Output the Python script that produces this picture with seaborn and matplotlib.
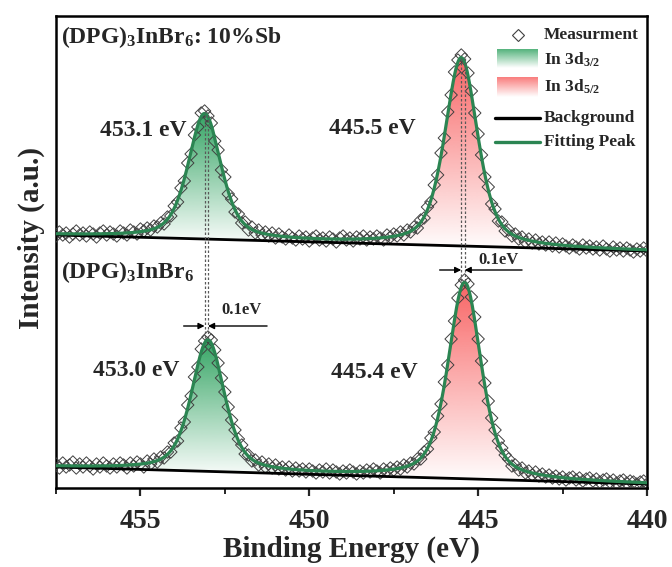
import numpy as np
import pandas as pd
import matplotlib
matplotlib.use("Agg")
import matplotlib.pyplot as plt
import seaborn as sns
from matplotlib.colors import to_rgb
from matplotlib.ticker import MultipleLocator

# ---------------- data ----------------
# binding-energy grid of the measurement, 457.5 -> 440.0 eV in 0.1 eV steps
energy = np.round(np.arange(4575, 4399, -1) / 10.0, 1)

meas_top = [
    252, 256, 253, 255, 251, 254, 257, 253, 255, 252,
    256, 254, 251, 255, 257, 253, 256, 254, 252, 257,
    255, 253, 258, 256, 254, 259, 257, 260, 258, 262,
    261, 265, 264, 271, 272, 282, 286, 300, 307, 325,
    334, 353, 361, 375, 377, 372, 365, 347, 338, 318,
    311, 294, 289, 276, 274, 265, 266, 258, 261, 255,
    258, 253, 256, 252, 255, 250, 254, 251, 249, 253,
    250, 248, 252, 249, 251, 247, 250, 252, 248, 250,
    247, 251, 249, 246, 250, 252, 248, 250, 247, 251,
    249, 252, 248, 251, 249, 252, 250, 248, 253, 251,
    254, 252, 256, 253, 258, 256, 261, 260, 268, 270,
    281, 286, 303, 313, 335, 350, 376, 393, 416, 428,
    433, 429, 415, 397, 375, 354, 333, 311, 301, 284,
    279, 267, 266, 257, 258, 252, 254, 249, 251, 246,
    249, 245, 248, 244, 246, 243, 246, 242, 245, 241,
    244, 242, 240, 243, 241, 239, 243, 240, 242, 239,
    241, 238, 242, 239, 237, 241, 238, 240, 237, 240,
    238, 236, 239, 237, 240, 237,
]

meas_bottom = [
    24, 20, 25, 21, 23, 26, 20, 24, 21, 25,
    22, 19, 24, 21, 25, 22, 20, 24, 21, 25,
    23, 20, 25, 22, 26, 24, 21, 27, 24, 29,
    26, 31, 30, 36, 36, 45, 47, 60, 66, 83,
    92, 111, 121, 139, 147, 151, 148, 138, 125, 110,
    96, 81, 68, 58, 49, 43, 34, 33, 27, 28,
    23, 26, 21, 24, 20, 23, 19, 21, 18, 21,
    17, 20, 17, 19, 16, 19, 17, 15, 18, 16,
    19, 15, 18, 16, 14, 17, 15, 18, 16, 14,
    17, 15, 18, 16, 19, 17, 15, 19, 17, 20,
    18, 21, 19, 23, 21, 25, 24, 29, 29, 36,
    39, 50, 56, 72, 84, 106, 123, 149, 167, 190,
    203, 208, 204, 191, 171, 149, 127, 105, 87, 70,
    58, 47, 40, 33, 29, 22, 23, 18, 20, 15,
    17, 13, 16, 12, 14, 11, 13, 10, 12, 9,
    11, 8, 10, 11, 8, 10, 7, 9, 10, 7,
    9, 6, 8, 9, 6, 8, 5, 7, 8, 5,
    7, 6, 4, 6, 7, 4,
]

# fitted model parameters
bg_top_ends = [253, 237]        # linear background at 457.5 / 440.0 eV
bg_bottom_ends = [21, 4]
centers_top = [453.1, 445.5]
heights_top = [125, 188]
centers_bottom = [453.0, 445.4]
heights_bottom = [131, 196]
peak_fwhm = 1.15
peak_eta = 0.5

peak_labels_top = ["453.1 eV", "445.5 eV"]
peak_labels_bottom = ["453.0 eV", "445.4 eV"]
legend_labels = ["Measurment", "In 3d$_{\\mathrm{3/2}}$", "In 3d$_{\\mathrm{5/2}}$",
                 "Background", "Fitting Peak"]
x_ticks = [455, 450, 445, 440]

# ---------------- style ----------------
sns.set_theme(style="ticks")
plt.rcParams["font.family"] = ["Liberation Serif", "DejaVu Serif"]
plt.rcParams["font.weight"] = "bold"
plt.rcParams["axes.labelweight"] = "bold"
plt.rcParams["mathtext.fontset"] = "custom"
plt.rcParams["mathtext.rm"] = "Liberation Serif:bold"
plt.rcParams["mathtext.bf"] = "Liberation Serif:bold"
plt.rcParams["mathtext.it"] = "Liberation Serif:bold:italic"

GREEN = "#2aa05c"
RED = "#f85c5c"
FIT = "#2b8552"

fig = plt.figure(figsize=(6.72, 5.67), dpi=100)
ax = fig.add_axes([56 / 672, 79 / 567, 591 / 672, 472 / 567])

xf = np.linspace(457.5, 440.0, 1401)


def pvoigt(x, c, h, w, eta):
    u2 = (2.0 * (x - c) / w) ** 2
    return h * (eta / (1.0 + u2) + (1.0 - eta) * np.exp(-np.log(2.0) * u2))


def linear_bg(x, ends):
    return ends[0] + (ends[1] - ends[0]) * (457.5 - x) / 17.5


def gradient_fill(ylow, yhigh, color, amax=0.95):
    poly = ax.fill_between(xf, ylow, yhigh, facecolor="none", edgecolor="none")
    rgb = to_rgb(color)
    n = 256
    img = np.zeros((n, 1, 4))
    img[:, 0, :3] = rgb
    img[:, 0, 3] = np.linspace(0.0, amax, n)
    mask = (yhigh - ylow) > 0.3
    ybot = ylow[mask].min()
    ytop = yhigh.max()
    im = ax.imshow(img, aspect="auto", origin="lower",
                   extent=[440.0, 457.5, ybot, ytop], zorder=1,
                   interpolation="bilinear")
    im.set_clip_path(poly.get_paths()[0], ax.transData)


for ends, cs, hs, meas in [(bg_top_ends, centers_top, heights_top, meas_top),
                           (bg_bottom_ends, centers_bottom, heights_bottom, meas_bottom)]:
    bg = linear_bg(xf, ends)
    comps = [pvoigt(xf, c, h, peak_fwhm, peak_eta) for c, h in zip(cs, hs)]
    for comp, col in zip(comps, [GREEN, RED]):
        gradient_fill(bg, bg + comp, col)
    fit = bg + comps[0] + comps[1]
    sns.scatterplot(x=energy, y=meas, marker="D", s=40, facecolors="none",
                    edgecolor="#404040", linewidth=0.7, ax=ax, zorder=3,
                    legend=False)
    sns.lineplot(x=xf, y=bg, color="black", lw=2.0, ax=ax, zorder=4)
    sns.lineplot(x=xf, y=fit, color=FIT, lw=2.3, ax=ax, zorder=5)

# dotted guide lines between the peak maxima
dot = dict(color="0.35", lw=0.9, ls=(0, (2, 1.6)), zorder=6)
ax.plot([centers_top[0]] * 2, [150, 376], **dot)
ax.plot([centers_bottom[0]] * 2, [150, 376], **dot)
ax.plot([centers_top[1]] * 2, [207, 432], **dot)
ax.plot([centers_bottom[1]] * 2, [207, 432], **dot)

arr = dict(arrowstyle="-|>", color="black", lw=1.0, mutation_scale=9,
           shrinkA=0, shrinkB=0)
ax.annotate("", xy=(centers_top[0], 162), xytext=(453.72, 162), arrowprops=arr, zorder=7)
ax.annotate("", xy=(centers_bottom[0], 162), xytext=(451.25, 162), arrowprops=arr, zorder=7)
ax.text(452.6, 170, "0.1eV", fontsize=12, fontweight="bold", ha="left", va="bottom")
ax.annotate("", xy=(centers_top[1], 218), xytext=(446.14, 218), arrowprops=arr, zorder=7)
ax.annotate("", xy=(centers_bottom[1], 218), xytext=(443.7, 218), arrowprops=arr, zorder=7)
ax.text(445.0, 220, "0.1eV", fontsize=12, fontweight="bold", ha="left", va="bottom")

# peak labels
for (x, y), lab in zip([(454.93, 358), (448.12, 360)], peak_labels_top):
    ax.text(x, y, lab, fontsize=17, fontweight="bold", ha="center", va="center")
for (x, y), lab in zip([(455.13, 118), (448.06, 116)], peak_labels_bottom):
    ax.text(x, y, lab, fontsize=17, fontweight="bold", ha="center", va="center")

ax.text(0.008, 0.955, "(DPG)$_{\\mathrm{3}}$InBr$_{\\mathrm{6}}$: 10%Sb", transform=ax.transAxes,
        fontsize=17, fontweight="bold", ha="left", va="center")
ax.text(0.008, 0.458, "(DPG)$_{\\mathrm{3}}$InBr$_{\\mathrm{6}}$", transform=ax.transAxes,
        fontsize=17, fontweight="bold", ha="left", va="center")


# ---------------- hand-built legend ----------------
def axc(px, py):
    return (px - 56) / 591, (488 - py) / 472


T = ax.transAxes
ax.plot(*axc(518, 35), marker="D", ms=6, mfc="none", mec="#404040", mew=0.8,
        transform=T, clip_on=False, zorder=8)
for (py0, py1), col in zip([(49, 68), (77, 97)], [GREEN, RED]):
    x0, y0 = axc(497, py1)
    x1, y1 = axc(538, py0)
    n = 64
    img = np.zeros((n, 1, 4))
    img[:, 0, :3] = to_rgb(col)
    img[:, 0, 3] = np.linspace(0.0, 0.8, n)
    ax.imshow(img, aspect="auto", origin="lower", extent=[x0, x1, y0, y1],
              transform=T, zorder=8, interpolation="bilinear", clip_on=False)
for py, col in zip([118, 142], ["black", FIT]):
    xa, ya = axc(495, py)
    xb, _ = axc(540, py)
    ax.plot([xa, xb], [ya, ya], color=col, lw=2.4, transform=T, clip_on=False, zorder=8)
for py, lab in zip([35, 60, 87, 118, 142], legend_labels):
    xx, yy = axc(544, py)
    ax.text(xx, yy, lab, transform=T, fontsize=12.5, fontweight="bold",
            ha="left", va="center", zorder=8)

# ---------------- axes ----------------
ax.set_xlim(457.5, 440.0)
ax.set_ylim(0, 472)
ax.set_xticks(x_ticks)
ax.xaxis.set_minor_locator(MultipleLocator(2.5))
ax.set_yticks([])
ax.tick_params(axis="x", which="major", direction="out", length=6, width=1.6,
               labelsize=20, pad=9)
ax.tick_params(axis="x", which="minor", direction="out", length=4, width=1.4)
for lab in ax.get_xticklabels():
    lab.set_fontweight("bold")
for sp in ax.spines.values():
    sp.set_visible(True)
    sp.set_linewidth(1.8)
    sp.set_color("black")
ax.set_xlabel("Binding Energy (eV)", fontsize=21, fontweight="bold", labelpad=1)
ax.set_ylabel("Intensity (a.u.)", fontsize=21, fontweight="bold", labelpad=8)
ax.yaxis.label.set_y(0.53)

fig.savefig("out.png", dpi=100)
